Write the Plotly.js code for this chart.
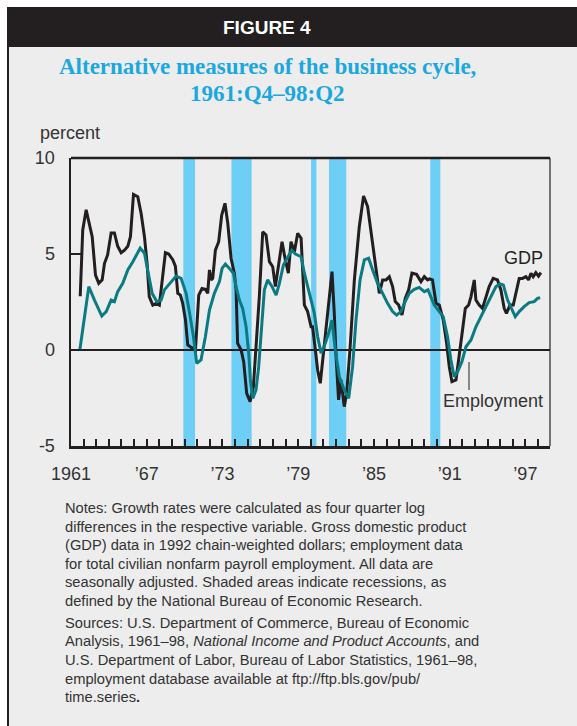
<!DOCTYPE html>
<html>
<head>
<meta charset="utf-8">
<script src="https://cdn.plot.ly/plotly-3.0.1.min.js"></script>
<style>html,body{margin:0;padding:0;background:#fff;}#chart{width:577px;height:726px;}</style>
</head>
<body>
<div id="chart"></div>
<script>
// ---- data ----
const gdpYears = [1961.73,1961.93,1962.2,1962.68,1962.94,1963.2,1963.47,1963.65,1963.9,1964.18,1964.44,1964.7,1964.97,1965.24,1965.5,1965.71,1965.95,1966.29,1966.56,1966.82,1967.03,1967.2,1967.48,1967.74,1968.0,1968.27,1968.48,1968.74,1969.06,1969.27,1969.46,1969.67,1969.85,1970.07,1970.25,1970.5,1970.86,1971.12,1971.38,1971.65,1971.83,1971.97,1972.1,1972.23,1972.44,1972.7,1972.94,1973.2,1973.42,1973.68,1973.94,1974.08,1974.2,1974.48,1974.68,1974.92,1975.19,1975.45,1975.66,1975.92,1976.19,1976.45,1976.72,1976.98,1977.19,1977.45,1977.72,1977.98,1978.22,1978.43,1978.7,1978.96,1979.23,1979.49,1979.75,1980.02,1980.14,1980.36,1980.54,1980.75,1981.07,1981.41,1981.68,1981.86,1982.0,1982.2,1982.39,1982.65,1982.84,1983.1,1983.45,1983.84,1984.18,1984.5,1984.9,1985.16,1985.43,1985.69,1985.96,1986.22,1986.48,1986.69,1986.96,1987.22,1987.48,1987.75,1988.01,1988.38,1988.73,1988.99,1989.25,1989.4,1989.64,1989.92,1990.18,1990.49,1990.76,1990.97,1991.18,1991.5,1991.76,1992.02,1992.24,1992.5,1992.69,1992.95,1993.08,1993.34,1993.6,1993.87,1994.13,1994.45,1994.79,1995.06,1995.32,1995.5,1995.78,1996.04,1996.3,1996.51,1996.77,1997.04,1997.25,1997.44,1997.62,1997.83,1998.04,1998.23];
const gdpGrowth = [2.8,6.25,7.3,5.9,3.9,3.47,3.65,4.5,4.95,6.1,6.1,5.4,5.07,5.2,5.4,5.9,8.1,7.98,7.1,5.9,4.5,2.78,2.34,2.43,2.34,3.82,5.07,5.0,4.7,4.37,2.95,2.86,2.43,1.56,0.26,0.15,0.0,2.86,3.2,3.16,2.95,4.17,3.65,3.73,5.2,5.64,7.03,7.64,6.6,4.78,4.0,3.13,0.35,0.0,-0.61,-2.26,-2.69,-1.91,0.17,2.78,6.16,5.99,4.6,4.34,3.3,4.34,5.64,4.69,4.0,5.64,5.12,6.08,5.82,2.34,2.0,1.21,1.21,0.0,-1.04,-1.73,0.17,2.26,4.08,1.91,-0.35,-2.6,-1.56,-2.95,-2.26,0.0,3.65,6.42,8.02,7.47,5.64,4.43,2.95,3.65,3.65,3.82,3.3,2.52,2.34,1.82,2.69,3.13,4.0,3.94,3.56,3.82,3.65,3.7,3.65,2.43,2.34,1.56,0.35,-0.87,-1.65,-1.56,-0.35,1.04,2.17,2.34,2.78,3.65,2.6,2.34,2.17,2.69,3.3,3.73,3.65,3.13,2.17,1.91,2.34,2.34,3.13,3.73,3.73,3.82,3.65,4.0,3.82,4.03,3.85,4.03];

const empYears = [1961.7,1962.41,1962.86,1963.44,1963.79,1964.18,1964.44,1964.7,1965.1,1965.5,1965.9,1966.48,1966.82,1967.08,1967.43,1967.8,1968.14,1968.4,1968.93,1969.33,1969.72,1970.12,1970.4,1970.7,1970.96,1971.3,1971.65,1971.97,1972.36,1972.76,1972.97,1973.23,1973.55,1973.87,1974.08,1974.34,1974.6,1974.87,1975.08,1975.21,1975.4,1975.66,1975.87,1976.06,1976.32,1976.58,1976.93,1977.25,1977.51,1977.83,1978.17,1978.49,1978.78,1979.23,1979.49,1979.85,1980.28,1980.54,1980.81,1981.15,1981.41,1981.68,1981.94,1982.26,1982.65,1983.0,1983.31,1983.58,1983.9,1984.24,1984.58,1984.9,1985.29,1985.69,1986.08,1986.48,1986.8,1987.14,1987.41,1987.8,1988.2,1988.59,1988.99,1989.28,1989.45,1989.78,1990.18,1990.49,1990.83,1991.1,1991.36,1991.63,1991.97,1992.29,1992.69,1993.08,1993.48,1993.87,1994.27,1994.67,1994.98,1995.25,1995.59,1995.98,1996.2,1996.51,1996.9,1997.3,1997.7,1997.96,1998.17];
const empGrowth = [0.0,3.3,2.6,1.77,2.0,2.6,2.52,3.04,3.47,4.17,4.6,5.3,5.04,4.17,2.95,2.52,2.6,3.13,3.56,3.85,3.73,2.95,1.9,0.7,-0.7,-0.52,0.7,2.08,2.95,3.56,4.25,4.48,4.25,4.0,3.3,2.6,2.17,1.21,-0.17,-1.56,-2.52,-2.08,-0.87,1.04,3.13,3.65,3.3,2.86,3.47,4.43,4.86,5.2,5.0,4.86,4.0,3.05,1.91,0.7,-0.17,0.35,0.87,1.56,0.0,-1.39,-2.08,-2.52,-0.87,1.56,3.65,4.69,4.78,4.17,3.47,2.95,2.43,2.0,1.82,2.0,2.43,2.95,3.16,3.26,3.04,3.13,2.85,2.34,2.0,1.74,0.7,-0.52,-1.39,-1.13,-0.61,0.17,0.52,1.21,1.74,2.26,2.78,3.3,3.44,3.39,2.6,2.0,1.74,2.0,2.26,2.47,2.52,2.69,2.72];

// shaded recession periods as drawn in the reference
const recessionStart = [1969.9, 1973.71, 1980.02, 1981.44, 1989.46];
const recessionEnd   = [1970.83, 1975.31, 1980.44, 1982.81, 1990.26];

const xTickVals = [1961, 1967, 1973, 1979, 1985, 1991, 1997];
const xTickText = ['1961', '\u201967', '\u201973', '\u201979', '\u201985', '\u201991', '\u201997'];
const yTickVals = [-5, 0, 5, 10];
const yTickText = ['-5', '0', '5', '10'];

const notesLines = [
  'Notes: Growth rates were calculated as four quarter log',
  'differences in the respective variable. Gross domestic product',
  '(GDP) data in 1992 chain-weighted dollars; employment data',
  'for total civilian nonfarm payroll employment. All data are',
  'seasonally adjusted. Shaded areas indicate recessions, as',
  'defined by the National Bureau of Economic Research.'
];
const sourcesLines = [
  'Sources: U.S. Department of Commerce, Bureau of Economic',
  'Analysis, 1961\u201398, <i>National Income and Product Accounts</i>, and',
  'U.S. Department of Labor, Bureau of Labor Statistics, 1961\u201398,',
  'employment database available at ftp://ftp.bls.gov/pub/',
  'time.series<b>.</b>'
];

// ---- layout helpers (pixel -> paper) ----
const L = 71, R = 550, T = 158, B = 446;
const px = x => (x - L) / (R - L);
const py = y => (B - y) / (B - T);

const INK = '#231F20';
const TEAL = '#0A7B82';
const BAND = '#6DCFF6';
const TXT = '#333333';
const SANS = 'Liberation Sans, Arial, sans-serif';

const shapes = [
  {type:'rect', xref:'paper', yref:'paper', x0:px(7), x1:px(580), y0:py(730), y1:py(7), fillcolor:'#EDEDED', line:{width:0}, layer:'below'},
  {type:'rect', xref:'paper', yref:'paper', x0:px(7), x1:px(580), y0:py(47), y1:py(7), fillcolor:INK, line:{width:0}, layer:'below'},
  {type:'line', xref:'paper', yref:'paper', x0:px(8), x1:px(8), y0:py(730), y1:py(47), line:{color:INK, width:2}, layer:'below'}
];
recessionStart.forEach((s, i) => {
  shapes.push({type:'rect', xref:'x', yref:'y', x0:s, x1:recessionEnd[i], y0:-5, y1:10, fillcolor:BAND, line:{width:0}, layer:'below'});
});
shapes.push({type:'line', xref:'paper', yref:'paper', x0:0, x1:1, y0:1, y1:1, line:{color:INK, width:2.5}});
shapes.push({type:'line', xref:'paper', yref:'paper', x0:1, x1:1, y0:0, y1:1, line:{color:INK, width:1.2}});
shapes.push({type:'line', xref:'paper', yref:'paper', x0:px(469), x1:px(469), y0:py(362), y1:py(390), line:{color:'#444', width:1.2}});

const annotations = [
  {text:'<b>FIGURE 4</b>', xref:'paper', yref:'paper', x:px(267), y:py(27), xanchor:'center', yanchor:'middle', showarrow:false, font:{family:SANS, size:19, color:'#FFFFFF'}},
  {text:'<b>Alternative measures of the business cycle,</b>', xref:'paper', yref:'paper', x:px(267), y:py(67), xanchor:'center', yanchor:'middle', showarrow:false, font:{family:'Liberation Serif, Times New Roman, serif', size:23, color:'#1BA8E0'}},
  {text:'<b>1961:Q4\u201398:Q2</b>', xref:'paper', yref:'paper', x:px(267), y:py(93), xanchor:'center', yanchor:'middle', showarrow:false, font:{family:'Liberation Serif, Times New Roman, serif', size:23, color:'#1BA8E0'}},
  {text:'percent', xref:'paper', yref:'paper', x:px(38), y:py(133), xanchor:'left', yanchor:'middle', showarrow:false, font:{family:SANS, size:18, color:TXT}},
  {text:'GDP', xref:'paper', yref:'paper', x:px(523), y:py(258), xanchor:'center', yanchor:'middle', showarrow:false, font:{family:SANS, size:18, color:INK}},
  {text:'Employment', xref:'paper', yref:'paper', x:px(493), y:py(401), xanchor:'center', yanchor:'middle', showarrow:false, font:{family:SANS, size:18, color:TXT}}
];
notesLines.forEach((t, i) => {
  annotations.push({text:t, xref:'paper', yref:'paper', x:px(63), y:py(508.3 + i*18.5), xanchor:'left', yanchor:'middle', showarrow:false, font:{family:SANS, size:14.7, color:TXT}});
});
sourcesLines.forEach((t, i) => {
  annotations.push({text:t, xref:'paper', yref:'paper', x:px(63), y:py(622.7 + i*18.65), xanchor:'left', yanchor:'middle', showarrow:false, font:{family:SANS, size:14.7, color:TXT}});
});

const traces = [
  {x:gdpYears, y:gdpGrowth, type:'scatter', mode:'lines', name:'GDP', line:{color:INK, width:3}},
  {x:empYears, y:empGrowth, type:'scatter', mode:'lines', name:'Employment', line:{color:TEAL, width:3}}
];

const layout = {
  width:577, height:726,
  margin:{l:L, r:577-R, t:T, b:726-B, pad:0},
  paper_bgcolor:'#FFFFFF', plot_bgcolor:'rgba(0,0,0,0)',
  showlegend:false,
  xaxis:{range:[1961, 1998.95], showgrid:false, zeroline:false, showline:true, linecolor:INK, linewidth:2.5,
         tickvals:xTickVals, ticktext:xTickText, ticks:'inside', ticklen:7, tickwidth:2, tickcolor:INK,
         minor:{dtick:1, tick0:1961, ticks:'inside', ticklen:7, tickwidth:2, tickcolor:INK, showgrid:false},
         ticklabelstandoff:10, tickfont:{family:SANS, size:18, color:TXT}},
  yaxis:{range:[-5, 10], showgrid:false, zeroline:true, zerolinecolor:INK, zerolinewidth:2, showline:true, linecolor:INK, linewidth:2.5,
         tickvals:yTickVals, ticktext:yTickText, ticks:'inside', ticklen:10, tickwidth:2, tickcolor:INK,
         ticklabelstandoff:10, tickfont:{family:SANS, size:18, color:TXT}},
  shapes:shapes,
  annotations:annotations
};

Plotly.newPlot('chart', traces, layout, {displayModeBar:false, staticPlot:true});
</script>
</body>
</html>
